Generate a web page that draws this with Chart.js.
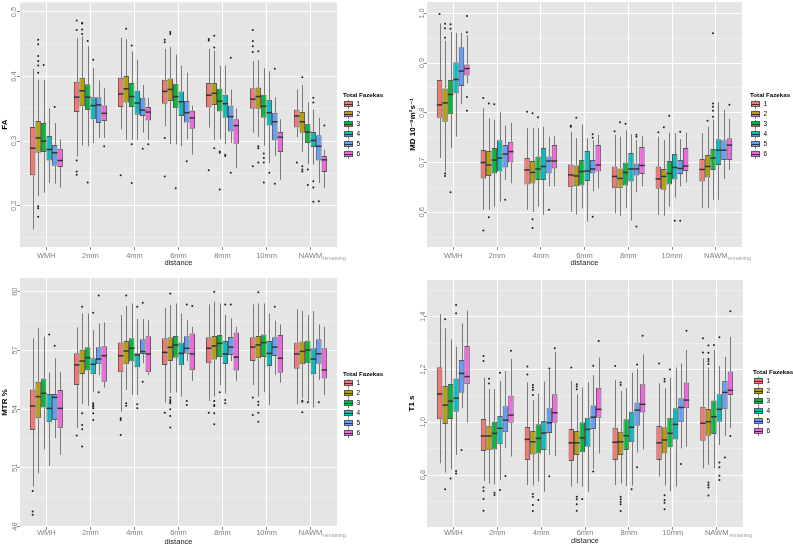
<!DOCTYPE html>
<html><head><meta charset="utf-8">
<script src="https://cdn.jsdelivr.net/npm/chart.js@4.4.1/dist/chart.umd.min.js"></script>
<style>
html,body{margin:0;padding:0;background:#fff;}
body{width:793px;height:546px;overflow:hidden;position:relative;font-family:"Liberation Sans",Arial,sans-serif;}
canvas{position:absolute;}
.lg{position:absolute;white-space:nowrap;color:#000;}
</style></head><body>
<canvas id="cFA" width="400" height="275" style="left:0;top:0"></canvas>
<canvas id="cMD" width="393" height="275" style="left:400px;top:0"></canvas>
<canvas id="cMTR" width="400" height="271" style="left:0;top:275px"></canvas>
<canvas id="cT1" width="393" height="271" style="left:400px;top:275px"></canvas>
<script>
// ---------------- DATA ----------------
const categories = ['WMH','2mm','4mm','6mm','8mm','10mm','NAWM'];
const nawmSubscript = 'remaining';
const fazekasLevels = ['1','2','3','4','5','6'];
const legendTitle = 'Total Fazekas';
const xTitle = 'distance';

// FA (rows = Fazekas 1..6, columns = categories)
const faQ1 = [
 [0.247,0.345,0.353,0.358,0.352,0.350,0.321],
 [0.282,0.354,0.360,0.362,0.356,0.350,0.313],
 [0.283,0.348,0.353,0.351,0.346,0.336,0.297],
 [0.270,0.334,0.341,0.339,0.336,0.324,0.291],
 [0.262,0.328,0.339,0.329,0.315,0.301,0.270],
 [0.260,0.331,0.332,0.319,0.296,0.283,0.252]];
const faMedian = [
 [0.289,0.368,0.373,0.377,0.371,0.365,0.339],
 [0.305,0.378,0.381,0.380,0.374,0.369,0.330],
 [0.300,0.368,0.369,0.369,0.362,0.354,0.314],
 [0.287,0.355,0.359,0.361,0.358,0.344,0.301],
 [0.282,0.356,0.348,0.344,0.338,0.330,0.292],
 [0.270,0.343,0.345,0.336,0.324,0.306,0.271]];
const faQ3 = [
 [0.322,0.392,0.398,0.395,0.390,0.382,0.349],
 [0.331,0.398,0.401,0.397,0.390,0.383,0.345],
 [0.328,0.388,0.390,0.389,0.381,0.372,0.327],
 [0.308,0.368,0.378,0.377,0.372,0.364,0.314],
 [0.294,0.368,0.367,0.362,0.355,0.344,0.309],
 [0.288,0.355,0.353,0.347,0.334,0.314,0.277]];
const faLow = [
 [0.163,0.276,0.318,0.323,0.321,0.313,0.306],
 [0.215,0.293,0.302,0.295,0.302,0.306,0.283],
 [0.220,0.292,0.302,0.295,0.303,0.293,0.264],
 [0.235,0.297,0.302,0.292,0.295,0.266,0.264],
 [0.234,0.305,0.313,0.303,0.297,0.277,0.235],
 [0.228,0.305,0.302,0.279,0.258,0.240,0.227]];
const faHigh = [
 [0.412,0.460,0.460,0.443,0.443,0.424,0.380],
 [0.395,0.462,0.458,0.446,0.440,0.425,0.387],
 [0.395,0.447,0.439,0.434,0.417,0.413,0.360],
 [0.351,0.413,0.426,0.417,0.417,0.408,0.349],
 [0.328,0.394,0.387,0.406,0.380,0.368,0.336],
 [0.303,0.382,0.367,0.355,0.351,0.334,0.287]];
// outliers: [Fazekas index, category index, value]
const faOutliers = [
 [1,0,0.457],[1,0,0.450],[1,0,0.432],[1,0,0.424],[1,0,0.417],[1,0,0.406],[1,0,0.199],[1,0,0.196],[1,0,0.183],[2,0,0.418],[4,0,0.353],
 [0,1,0.487],[0,1,0.472],[0,1,0.270],[0,1,0.253],[0,1,0.248],[1,1,0.483],[1,1,0.482],[1,1,0.473],[1,1,0.466],[2,1,0.455],[2,1,0.236],[3,1,0.426],[5,1,0.292],
 [0,2,0.247],[1,2,0.474],[2,2,0.448],[2,2,0.295],[2,2,0.235],[4,2,0.288],[5,2,0.295],
 [0,3,0.457],[0,3,0.453],[0,3,0.305],[0,3,0.245],[1,3,0.469],[1,3,0.466],[2,3,0.227],[4,3,0.269],
 [0,4,0.458],[0,4,0.456],[0,4,0.255],[1,4,0.463],[1,4,0.445],[1,4,0.289],[2,4,0.284],[2,4,0.282],[2,4,0.225],[3,4,0.279],[3,4,0.277],[4,4,0.429],[4,4,0.251],
 [0,5,0.472],[0,5,0.455],[0,5,0.447],[0,5,0.438],[0,5,0.261],[1,5,0.439],[1,5,0.292],[1,5,0.289],[1,5,0.267],[2,5,0.281],[2,5,0.274],[2,5,0.267],[2,5,0.236],[3,5,0.251],[4,5,0.412],[4,5,0.234],
 [0,6,0.267],[1,6,0.399],[1,6,0.261],[1,6,0.256],[1,6,0.253],[2,6,0.256],[2,6,0.232],[3,6,0.367],[3,6,0.360],[3,6,0.238],[3,6,0.228],[3,6,0.206],[4,6,0.207],[5,6,0.324]];
const faTicks = [0.15,0.2,0.25,0.3,0.35,0.4,0.45,0.5];
const faTickLabels = ['','0.2','','0.3','','0.4','','0.5'];
const faTitle = 'FA';

// MD
const mdQ1 = [
 [0.790,0.668,0.656,0.650,0.648,0.647,0.662],
 [0.782,0.673,0.658,0.652,0.648,0.645,0.670],
 [0.797,0.678,0.665,0.654,0.654,0.656,0.685],
 [0.839,0.682,0.665,0.663,0.662,0.666,0.695],
 [0.854,0.690,0.678,0.678,0.674,0.677,0.705],
 [0.875,0.700,0.688,0.682,0.677,0.683,0.705]];
const mdMedian = [
 [0.816,0.700,0.685,0.675,0.672,0.667,0.686],
 [0.820,0.695,0.680,0.673,0.668,0.672,0.692],
 [0.837,0.705,0.687,0.682,0.680,0.678,0.709],
 [0.867,0.709,0.692,0.683,0.687,0.690,0.725],
 [0.884,0.717,0.703,0.687,0.687,0.688,0.725],
 [0.889,0.722,0.703,0.695,0.694,0.693,0.735]];
const mdQ3 = [
 [0.866,0.725,0.709,0.696,0.692,0.692,0.707],
 [0.849,0.723,0.703,0.694,0.688,0.687,0.715],
 [0.866,0.729,0.712,0.705,0.700,0.703,0.727],
 [0.902,0.745,0.729,0.723,0.719,0.717,0.747],
 [0.932,0.735,0.712,0.705,0.698,0.705,0.745],
 [0.897,0.742,0.735,0.735,0.731,0.729,0.749]];
const mdLow = [
 [0.709,0.605,0.605,0.601,0.598,0.595,0.609],
 [0.682,0.605,0.600,0.595,0.593,0.593,0.609],
 [0.729,0.611,0.611,0.608,0.608,0.611,0.625],
 [0.752,0.621,0.595,0.581,0.583,0.630,0.625],
 [0.817,0.665,0.652,0.642,0.640,0.652,0.667],
 [0.859,0.658,0.652,0.648,0.652,0.660,0.685]];
const mdHigh = [
 [0.980,0.809,0.769,0.762,0.756,0.752,0.759],
 [0.945,0.789,0.769,0.749,0.752,0.745,0.772],
 [0.963,0.786,0.769,0.776,0.765,0.760,0.786],
 [0.961,0.802,0.772,0.749,0.757,0.759,0.821],
 [0.961,0.774,0.752,0.745,0.745,0.747,0.806],
 [0.956,0.780,0.753,0.756,0.754,0.760,0.788]];
const mdOutliers = [
 [0,0,0.999],[1,0,0.979],[1,0,0.970],[1,0,0.951],[1,0,0.678],[1,0,0.673],[2,0,0.978],[2,0,0.969],[2,0,0.640],[5,0,0.995],[5,0,0.962],[5,0,0.832],[5,0,0.804],
 [0,1,0.830],[0,1,0.563],[1,1,0.819],[1,1,0.590],[2,1,0.817],[4,1,0.625],
 [0,2,0.802],[1,2,0.799],[1,2,0.586],[1,2,0.568],[2,2,0.791],[4,2,0.605],
 [0,3,0.774],[0,3,0.772],[1,3,0.790],[4,3,0.757],[4,3,0.750],[4,3,0.591],
 [0,4,0.763],[1,4,0.781],[2,4,0.778],[4,4,0.756],[4,4,0.752],[4,4,0.571],
 [0,5,0.761],[1,5,0.771],[2,5,0.794],[3,5,0.583],[4,5,0.762],[4,5,0.583],
 [1,6,0.784],[2,6,0.960],[2,6,0.819],[2,6,0.812],[2,6,0.804],[2,6,0.792],[5,6,0.816]];
const mdTicks = [0.55,0.6,0.65,0.7,0.75,0.8,0.85,0.9,0.95,1.0];
const mdTickLabels = ['','0.6','','0.7','','0.8','','0.9','','1.0'];
const mdTitle = 'MD 10\u207B\u2079m\u00B2s\u207B\u00B9';

// MTR
const mtrQ1 = [
 [52.94,55.23,55.88,56.26,56.34,56.46,56.07],
 [53.53,55.80,56.29,56.46,56.54,56.60,56.29],
 [54.08,55.97,56.43,56.63,56.66,56.66,56.34],
 [53.33,55.78,56.14,56.24,56.31,56.20,55.78],
 [53.45,56.29,56.82,56.83,56.77,56.71,56.32],
 [53.02,55.40,55.88,55.99,55.97,55.86,55.57]];
const mtrMedian = [
 [54.16,56.26,56.73,56.90,57.11,57.17,56.82],
 [54.64,56.46,56.97,57.16,57.23,57.28,56.95],
 [54.81,56.63,57.11,57.28,57.36,57.40,57.02],
 [54.04,56.29,56.77,56.85,56.82,56.85,56.56],
 [54.60,56.56,56.94,57.11,57.17,57.17,56.83],
 [54.04,56.73,56.82,56.82,56.66,56.60,56.00]];
const mtrQ3 = [
 [55.01,56.85,57.40,57.62,57.67,57.67,57.41],
 [55.40,57.04,57.48,57.67,57.74,57.74,57.45],
 [55.57,57.16,57.62,57.74,57.79,57.82,57.51],
 [54.77,56.60,56.85,57.41,57.48,57.48,57.11],
 [54.77,57.16,57.57,57.72,57.69,57.67,57.57],
 [54.98,57.21,57.72,57.87,57.92,57.79,57.11]];
const mtrLow = [
 [50.04,53.02,53.87,54.33,54.42,55.23,54.26],
 [50.72,54.25,54.98,54.81,54.64,54.64,54.55],
 [51.95,54.16,54.72,54.86,55.23,54.86,54.38],
 [51.11,54.86,54.72,54.64,54.81,54.21,54.08],
 [52.51,55.74,56.34,56.46,56.46,55.74,55.49],
 [51.66,55.10,55.74,55.44,55.44,55.35,54.72]];
const mtrHigh = [
 [57.62,58.18,58.81,59.18,59.35,59.35,59.10],
 [58.13,58.89,59.27,59.32,59.49,59.40,59.01],
 [57.70,58.89,59.40,59.40,59.40,59.40,58.81],
 [55.86,58.04,58.60,58.89,58.81,58.89,59.01],
 [56.60,58.38,58.60,58.55,58.64,58.52,58.33],
 [55.91,58.43,58.55,58.21,58.21,58.33,58.21]];
const mtrOutliers = [
 [0,0,49.82],[0,0,48.77],[0,0,48.60],[3,0,57.82],[4,0,57.24],
 [0,1,52.65],[1,1,59.23],[1,1,53.79],[1,1,53.19],[1,1,52.97],[1,1,52.09],[3,1,58.93],[3,1,54.30],[3,1,54.21],[3,1,54.13],[3,1,54.04],[3,1,53.79],[3,1,53.45],[4,1,59.80],[4,1,54.86],
 [0,2,53.53],[0,2,53.45],[0,2,52.68],[1,2,59.80],[1,2,54.30],[1,2,54.18],[3,2,59.23],[3,2,54.25],[3,2,54.04],[4,2,59.44],[4,2,55.40],
 [0,3,53.82],[1,3,59.91],[1,3,54.59],[1,3,54.47],[1,3,54.38],[1,3,54.30],[1,3,53.99],[1,3,53.65],[1,3,53.06],[4,3,59.35],[4,3,54.42],[4,3,54.21],[5,3,59.27],
 [0,4,53.82],[1,4,60.00],[1,4,54.42],[1,4,54.21],[1,4,54.16],[1,4,53.79],[1,4,53.23],[2,4,54.86],[3,4,59.35],[3,4,54.47],[3,4,54.30],[4,4,59.35],
 [0,5,54.59],[0,5,53.70],[1,5,59.97],[1,5,54.38],[1,5,54.21],[1,5,53.82],[1,5,53.36],[4,5,59.23],
 [1,6,54.43],[1,6,54.38],[1,6,53.84],[2,6,54.35],[4,6,54.35]];
const mtrTicks = [48,49.5,51,52.5,54,55.5,57,58.5,60];
const mtrTickLabels = ['48','','51','','54','','57','','60'];
const mtrTitle = 'MTR %';

// T1
const t1Q1 = [
 [1.011,0.891,0.857,0.853,0.857,0.857,0.930],
 [0.993,0.894,0.878,0.876,0.876,0.882,0.949],
 [1.012,0.897,0.882,0.886,0.895,0.905,0.955],
 [1.040,0.917,0.895,0.907,0.924,0.935,1.002],
 [1.112,0.962,0.959,0.974,0.987,1.000,1.049],
 [1.144,0.998,0.998,1.017,1.037,1.053,1.103]];
const t1Median = [
 [1.107,0.948,0.935,0.922,0.924,0.922,0.996],
 [1.065,0.948,0.926,0.922,0.926,0.933,1.002],
 [1.080,0.958,0.939,0.941,0.949,0.958,1.021],
 [1.091,0.977,0.959,0.973,0.981,0.992,1.049],
 [1.185,1.008,0.998,1.019,1.046,1.056,1.113],
 [1.173,1.027,1.036,1.049,1.068,1.084,1.121]];
const t1Q3 = [
 [1.208,1.012,0.982,0.974,0.979,0.986,1.059],
 [1.137,0.987,0.967,0.967,0.964,0.981,1.050],
 [1.145,1.002,0.992,1.000,1.011,1.017,1.082],
 [1.166,1.024,1.005,1.017,1.040,1.053,1.106],
 [1.236,1.061,1.053,1.063,1.075,1.091,1.157],
 [1.289,1.101,1.106,1.131,1.144,1.151,1.192]];
const t1Low = [
 [0.844,0.777,0.762,0.756,0.762,0.794,0.825],
 [0.809,0.768,0.760,0.768,0.768,0.760,0.838],
 [0.821,0.765,0.775,0.756,0.758,0.739,0.825],
 [0.876,0.781,0.737,0.737,0.760,0.756,0.914],
 [1.053,0.901,0.876,0.823,0.885,0.901,0.948],
 [0.998,0.870,0.872,0.882,0.897,0.907,0.977]];
const t1High = [
 [1.410,1.169,1.151,1.156,1.160,1.147,1.242],
 [1.356,1.126,1.084,1.106,1.118,1.128,1.207],
 [1.314,1.126,1.109,1.131,1.128,1.169,1.274],
 [1.286,1.156,1.154,1.151,1.188,1.207,1.213],
 [1.375,1.194,1.198,1.179,1.202,1.223,1.248],
 [1.423,1.240,1.267,1.245,1.257,1.274,1.324]];
const t1Outliers = [
 [1,0,1.390],[1,0,0.746],[2,0,0.787],[3,0,1.444],[3,0,1.413],[3,0,0.815],[3,0,0.806],[4,0,0.895],
 [0,1,1.251],[0,1,1.232],[0,1,0.753],[0,1,0.739],[0,1,0.709],[0,1,0.665],[1,1,1.165],[1,1,1.147],[2,1,0.733],[2,1,0.724],[3,1,1.188],[3,1,0.743],[4,1,0.796],[5,1,1.271],
 [0,2,1.211],[0,2,1.181],[1,2,1.141],[1,2,1.132],[1,2,1.122],[1,2,1.103],[1,2,0.728],[1,2,0.718],[1,2,0.686],[1,2,0.664],[2,2,0.705],[4,2,1.204],[4,2,0.795],[5,2,1.280],
 [0,3,1.207],[1,3,1.144],[1,3,1.135],[1,3,1.125],[1,3,0.718],[1,3,0.708],[1,3,0.689],[1,3,0.665],[2,3,0.709],[4,3,1.214],[4,3,0.813],[5,3,1.308],
 [0,4,1.213],[1,4,1.151],[1,4,1.141],[1,4,0.718],[1,4,0.708],[1,4,0.699],[1,4,0.689],[1,4,0.664],[3,4,0.746],[4,4,1.219],[4,4,0.829],[5,4,1.328],
 [0,5,1.223],[1,5,1.164],[1,5,1.154],[1,5,0.723],[1,5,0.705],[1,5,0.695],[1,5,0.670],[2,5,1.200],[4,5,0.842],[5,5,1.347],
 [0,6,1.318],[0,6,1.264],[1,6,1.291],[1,6,1.263],[1,6,1.240],[1,6,1.231],[1,6,1.221],[1,6,0.772],[1,6,0.762],[1,6,0.753],[1,6,0.722],[2,6,1.293],[3,6,1.322],[3,6,0.847],[3,6,0.829],[3,6,0.797],[3,6,0.781],[4,6,0.866],[5,6,1.421],[5,6,0.948]];
const t1Ticks = [0.7,0.8,0.9,1.0,1.1,1.2,1.3,1.4,1.5];
const t1TickLabels = ['','0.8','','1.0','','1.2','','1.4',''];
const t1Title = 'T1 s';

// ---------------- STYLE ----------------
const fillColors = ['#F8766D','#B79F00','#00BA38','#00BFC4','#619CFF','#F564E3'];
const FONT = '"Liberation Sans", "DejaVu Sans", Arial, sans-serif';
Chart.defaults.font.family = FONT;

const panelStats = {};
const panelLayout = {};

const boxPlugin = {
  id: 'boxplotDraw',
  beforeDraw(chart) {
    const a = chart.chartArea, ctx = chart.ctx;
    ctx.save(); ctx.fillStyle = '#E5E5E5';
    ctx.fillRect(a.left, a.top, a.right - a.left, a.bottom - a.top);
    ctx.restore();
  },
  beforeDatasetsDraw(chart) {
    const s = panelStats[chart.canvas.id]; const ys = chart.scales.y; const ctx = chart.ctx;
    ctx.save(); ctx.strokeStyle = '#7a7a7a'; ctx.lineWidth = 1;
    chart.data.datasets.forEach((ds, g) => {
      chart.getDatasetMeta(g).data.forEach((el, c) => {
        const x = Math.round(el.x) + 0.5;
        ctx.beginPath();
        ctx.moveTo(x, ys.getPixelForValue(s.high[g][c])); ctx.lineTo(x, ys.getPixelForValue(s.q3[g][c]));
        ctx.moveTo(x, ys.getPixelForValue(s.q1[g][c])); ctx.lineTo(x, ys.getPixelForValue(s.low[g][c]));
        ctx.stroke();
      });
    });
    ctx.restore();
  },
  afterDatasetsDraw(chart) {
    const s = panelStats[chart.canvas.id]; const ys = chart.scales.y; const ctx = chart.ctx;
    ctx.save(); ctx.strokeStyle = '#333333'; ctx.lineWidth = 1.5;
    chart.data.datasets.forEach((ds, g) => {
      chart.getDatasetMeta(g).data.forEach((el, c) => {
        const y = ys.getPixelForValue(s.med[g][c]);
        ctx.beginPath(); ctx.moveTo(el.x - el.width / 2, y); ctx.lineTo(el.x + el.width / 2, y); ctx.stroke();
      });
    });
    ctx.fillStyle = '#1e1e1e';
    s.out.forEach(([g, c, v]) => {
      const el = chart.getDatasetMeta(g).data[c];
      ctx.beginPath(); ctx.arc(el.x, ys.getPixelForValue(v), 1.0, 0, Math.PI * 2); ctx.fill();
    });
    ctx.restore();
  },
  afterDraw(chart) {
    const L = panelLayout[chart.canvas.id]; const xs = chart.scales.x; const ctx = chart.ctx;
    const px = xs.getPixelForValue(categories.length - 1);
    ctx.save();
    ctx.font = '7.5px ' + FONT; const w = ctx.measureText(categories[categories.length - 1]).width;
    ctx.font = '5.3px ' + FONT; ctx.fillStyle = '#a0a0a0'; ctx.textAlign = 'left'; ctx.textBaseline = 'alphabetic';
    const cy = xs.top + 3 + L.xTickPad + 4.5;
    ctx.fillText(nawmSubscript, px + w / 2 + 0.3, cy + 4.3);
    ctx.restore();
  }
};

function makePanel(id, stats, yTicks, yLabels, yTitle, L) {
  panelStats[id] = stats; panelLayout[id] = L;
  return new Chart(document.getElementById(id), {
    type: 'bar',
    data: { datasets: fazekasLevels.map((lab, g) => ({
      label: lab,
      data: categories.map((cat, c) => ({ x: c, y: [stats.q1[g][c], stats.q3[g][c]] })),
      backgroundColor: fillColors[g], borderColor: '#595959', borderWidth: 1, borderSkipped: false,
      categoryPercentage: 0.75, barPercentage: 1
    })) },
    options: {
      responsive: false, animation: false, devicePixelRatio: 1,
      layout: { padding: { left: 0, top: L.top, right: L.right, bottom: 0 } },
      plugins: { legend: { display: false }, tooltip: { enabled: false } },
      scales: {
        x: {
          type: 'linear', min: -0.6, max: 6.6, offset: false,
          afterBuildTicks: s => { s.ticks = categories.map((_, i) => ({ value: i })); },
          afterFit: s => { s.height = L.xHeight; },
          ticks: { callback: v => categories[v] ?? '', autoSkip: false, maxRotation: 0, minRotation: 0,
                   padding: L.xTickPad, color: '#7f7f7f', font: { size: 7.5 } },
          grid: { color: '#ffffff', lineWidth: 1, offset: false, drawTicks: true, tickLength: 3, tickColor: '#8c8c8c' },
          border: { display: false },
          title: { display: true, text: xTitle, color: '#1a1a1a', font: { size: 7.5 }, padding: { top: 0, bottom: L.xTitlePad } }
        },
        y: {
          type: 'linear', min: L.yMin, max: L.yMax,
          afterBuildTicks: s => { s.ticks = yTicks.map(v => ({ value: v })); },
          afterFit: s => { s.width = L.yWidth; },
          ticks: { callback: (v, i) => yLabels[i], autoSkip: false, minRotation: 90, maxRotation: 90,
                   crossAlign: 'center', padding: L.yTickPad, color: '#7f7f7f', font: { size: 7.5 } },
          grid: { color: c => yLabels[c.index] ? '#ffffff' : '#f2f2f2',
                  lineWidth: c => yLabels[c.index] ? 1 : 0.7,
                  tickColor: c => yLabels[c.index] ? '#8c8c8c' : 'rgba(0,0,0,0)',
                  tickLength: 3, drawTicks: true },
          border: { display: false },
          title: { display: true, text: yTitle, color: '#000', font: { size: 8, weight: 'bold' }, padding: { top: L.yTitlePad, bottom: 0 } }
        }
      }
    },
    plugins: [boxPlugin]
  });
}

function stats(q1, med, q3, low, high, out) { return { q1, med, q3, low, high, out }; }

makePanel('cFA', stats(faQ1, faMedian, faQ3, faLow, faHigh, faOutliers), faTicks, faTickLabels, faTitle,
  { top: 2, right: 63, yWidth: 20, xHeight: 28, yMin: 0.136, yMax: 0.515, xTickPad: 1.5, xTitlePad: 7.5, yTickPad: -2.2, yTitlePad: 0 });
makePanel('cMD', stats(mdQ1, mdMedian, mdQ3, mdLow, mdHigh, mdOutliers), mdTicks, mdTickLabels, mdTitle,
  { top: 2, right: 51, yWidth: 27, xHeight: 28, yMin: 0.530, yMax: 1.023, xTickPad: 1.5, xTitlePad: 7.5, yTickPad: -3.2, yTitlePad: 8 });
makePanel('cMTR', stats(mtrQ1, mtrMedian, mtrQ3, mtrLow, mtrHigh, mtrOutliers), mtrTicks, mtrTickLabels, mtrTitle,
  { top: 3, right: 63, yWidth: 20, xHeight: 19, yMin: 47.98, yMax: 60.7, xTickPad: -1.8, xTitlePad: -0.5, yTickPad: -2.2, yTitlePad: 0 });
makePanel('cT1', stats(t1Q1, t1Median, t1Q3, t1Low, t1High, t1Outliers), t1Ticks, t1TickLabels, t1Title,
  { top: 5, right: 50, yWidth: 27, xHeight: 19, yMin: 0.603, yMax: 1.539, xTickPad: -1.8, xTitlePad: 0.5, yTickPad: -4.2, yTitlePad: 7 });

// ---------------- LEGENDS (HTML) ----------------
function addLegend(x, yTitle) {
  const add = (css, text) => { const d = document.createElement('div'); d.className = 'lg'; d.style.cssText += css; if (text) d.textContent = text; document.body.appendChild(d); return d; };
  add(`left:${x}px;top:${yTitle - 4}px;font:bold 6.2px ${FONT};line-height:8px;`, legendTitle);
  fazekasLevels.forEach((lab, i) => {
    const cy = yTitle + 9.3 + 10 * i;
    add(`left:${x + 5}px;top:${cy - 4.5}px;width:1px;height:9px;background:#7a7a7a;`);
    add(`left:${x + 1}px;top:${cy - 3}px;width:9px;height:6px;box-sizing:border-box;background:${fillColors[i]};border:1px solid #595959;`);
    add(`left:${x + 1}px;top:${cy - 0.5}px;width:9px;height:1px;background:#333;`);
    add(`left:${x + 13.5}px;top:${cy - 4}px;font:6.5px ${FONT};line-height:8px;`, lab);
  });
}
addLegend(343, 95);
addLegend(750, 95);
addLegend(343, 374);
addLegend(753, 372);
</script>
</body></html>
